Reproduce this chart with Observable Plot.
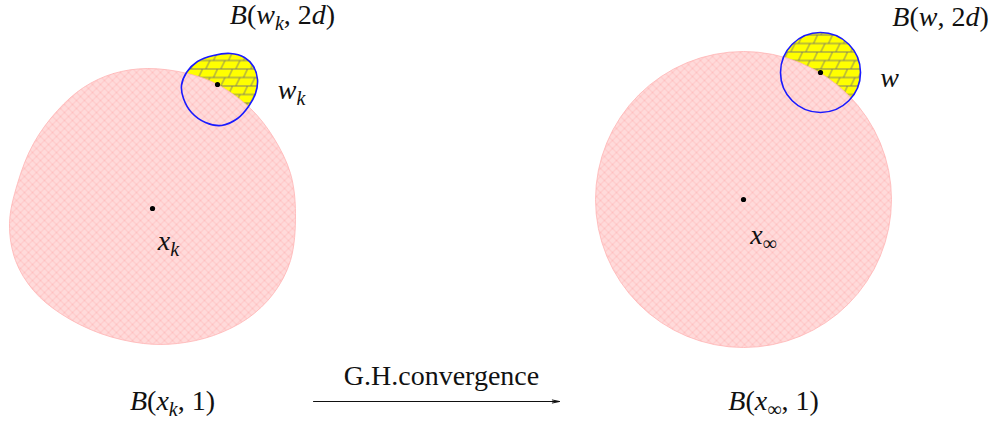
<!DOCTYPE html>
<html><head><meta charset="utf-8">
<script src="https://cdn.jsdelivr.net/npm/d3@7"></script>
<script src="https://cdn.jsdelivr.net/npm/@observablehq/plot@0.6"></script>
<style>
body{margin:0;background:#fff}
svg text{font-family:"Liberation Serif","Times New Roman",serif;}
</style>
</head><body><div id="chart"></div>
<script>
// Diagram coordinates (x to the right, y downward)
const blobX = [147,113,83,57,33,17,9,15,33,60,100,143,177,213,247,273,290,295,290,273,250,217,187];
const blobY = [68,73,87,110,143,183,223,260,290,313,333,343,343,335,318,293,260,213,173,137,108,84,73];
const eggX = [230,244,253,257,255,248,237,221,205,191,183,181,186,197,213];
const eggY = [53,57,66,79,93,106,118,125,122,112,98,85,72,61,55];
const ballNames = ["B(w,2d)", "B(x∞,1)"];
const ballX = [820, 743];
const ballY = [72, 199];
const ballR = [40, 148];
const pointNames = ["x_k", "w_k", "x_∞", "w"];
const pointX = [152, 217, 743, 820];
const pointY = [208, 84, 199, 72];
const mathLabels = ["B(w_k, 2d)", "w_k", "x_k", "B(x_k, 1)", "B(w, 2d)", "w", "x_∞", "B(x_∞, 1)"];
const mathLabelX = [282, 291, 168, 172, 940, 889, 763, 773];
const mathLabelY = [15, 90, 241, 401, 17, 78, 235, 401];
const arrowLabel = ["G.H.convergence"];
const arrowLabelX = [441];
const arrowLabelY = [376];
const arrowX1 = [313], arrowX2 = [559], arrowY = [401];

const blob = blobX.map((x, i) => ({x, y: blobY[i]}));
const egg = eggX.map((x, i) => ({x, y: eggY[i]}));
const balls = ballNames.map((n, i) => ({n, x: ballX[i], y: ballY[i], r: ballR[i]}));
const points = pointNames.map((n, i) => ({n, x: pointX[i], y: pointY[i]}));
const labels = mathLabels.map((t, i) => ({t: t.replace(/_/g, ""), x: mathLabelX[i], y: mathLabelY[i]}));
const arrowText = arrowLabel.map((t, i) => ({t, x: arrowLabelX[i], y: arrowLabelY[i]}));
const arrows = arrowX1.map((x1, i) => ({x1, x2: arrowX2[i], y: arrowY[i]}));

const blue = "#1a1aff";
const pinkStroke = "#ffb4b4";
const curve = "catmull-rom-closed";
const serif = "Liberation Serif";

const chart = Plot.plot({
  width: 996, height: 421,
  margin: 0,
  x: {domain: [0, 996], range: [0, 996], axis: null},
  y: {domain: [0, 421], range: [0, 421], axis: null},
  r: {type: "linear", domain: [0, 100], range: [0, 100]},
  marks: [
    Plot.line(egg, {x: "x", y: "y", curve, fill: "url(#yellowHatch)", stroke: "none"}),
    Plot.dot([balls[0]], {x: "x", y: "y", r: "r", fill: "url(#yellowHatch)", stroke: "none"}),
    Plot.line(blob, {x: "x", y: "y", curve, fill: "url(#pinkHatch)", stroke: pinkStroke, strokeWidth: 0.8}),
    Plot.dot([balls[1]], {x: "x", y: "y", r: "r", fill: "url(#pinkHatch)", stroke: pinkStroke, strokeWidth: 0.8}),
    Plot.line(egg, {x: "x", y: "y", curve, fill: "none", stroke: blue, strokeWidth: 1.6}),
    Plot.dot([balls[0]], {x: "x", y: "y", r: "r", fill: "none", stroke: blue, strokeWidth: 1.6}),
    Plot.dot(points, {x: "x", y: "y", r: 2.6, fill: "black", stroke: "none"}),
    Plot.text(labels, {x: "x", y: "y", text: "t", fontFamily: serif, fontSize: 28, fill: "#111"}),
    Plot.text(arrowText, {x: "x", y: "y", text: "t", fontFamily: serif, fontSize: 28, fill: "#111"}),
    Plot.arrow(arrows, {x1: "x1", x2: "x2", y1: "y", y2: "y", stroke: "#111", strokeWidth: 1, headAngle: 24, headLength: 11})
  ]
});

const ns = "http://www.w3.org/2000/svg";
const defs = document.createElementNS(ns, "defs");
defs.innerHTML = `
<pattern id="pinkHatch" patternUnits="userSpaceOnUse" width="8" height="8">
  <rect width="8" height="8" fill="#ffdada"/>
  <path d="M0,0L8,8M8,0L0,8M-1,7L1,9M7,-1L9,1" stroke="#ffc0c0" stroke-width="1" fill="none"/>
</pattern>
<pattern id="yellowHatch" patternUnits="userSpaceOnUse" width="15" height="17">
  <rect width="15" height="17" fill="#ffff00"/>
  <path d="M0,0.5H15M0,9H15M3,9L7,0.5M10.5,17L14.5,9" stroke="#707070" stroke-width="0.9" fill="none"/>
</pattern>`;
chart.insertBefore(defs, chart.firstChild);

const textGroups = chart.querySelectorAll('g[aria-label="text"]');
textGroups[0].querySelectorAll("text").forEach((t, i) => {
  const src = mathLabels[i];
  t.textContent = "";
  let inSub = false;
  for (let j = 0; j < src.length; j++) {
    let ch = src[j];
    let isSub = false;
    if (ch === "_") { ch = src[++j]; isSub = true; }
    const ts = document.createElementNS(ns, "tspan");
    ts.textContent = ch;
    if (/[A-Za-z]/.test(ch)) ts.setAttribute("font-style", "italic");
    if (isSub) { ts.setAttribute("font-size", 20); ts.setAttribute("dy", 6); inSub = true; }
    else if (inSub) { ts.setAttribute("dy", -6); inSub = false; }
    t.appendChild(ts);
  }
});

document.getElementById("chart").appendChild(chart);
</script>
</body></html>
